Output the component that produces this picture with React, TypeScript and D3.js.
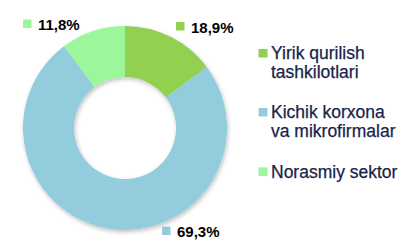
import React from "react";
import * as d3 from "d3";

const categories = ["Yirik qurilish tashkilotlari", "Kichik korxona va mikrofirmalar", "Norasmiy sektor"];
const legendLines = [["Yirik qurilish", "tashkilotlari"], ["Kichik korxona", "va mikrofirmalar"], ["Norasmiy sektor"]];
// slice sizes as drawn in the picture
const drawnShares = [14.8, 75.0, 10.2];
// value labels as printed
const valueLabels = ["18,9%", "69,3%", "11,8%"];
const colors = ["#92D050", "#93CDDD", "#9CF79C"];

const W = 409, H = 247;
const cx = 125, cy = 128;
const outerR = 102, innerR = 51;

// label anchor positions (marker left x, text baseline y)
const labelPos = [
  { x: 176, y: 32.5 },
  { x: 162, y: 237 },
  { x: 23, y: 30 },
];

export default function App() {
  const pie = d3.pie<number>().sort(null).value((d) => d)(drawnShares);
  const arc = d3.arc<d3.PieArcDatum<number>>().innerRadius(innerR).outerRadius(outerR);
  const legendY = [59.3, 118.3, 177.7];
  return (
    <svg width={W} height={H} style={{ position: "absolute", left: 0, top: 0, background: "#fff" }}>
      <defs>
        <filter id="sh" x="-20%" y="-20%" width="140%" height="140%">
          <feDropShadow dx="1" dy="2" stdDeviation="2" floodColor="#000" floodOpacity="0.25" />
        </filter>
      </defs>
      <g transform={`translate(${cx},${cy})`} filter="url(#sh)">
        {pie.map((p, i) => (
          <path key={i} d={arc(p) || ""} fill={colors[i]} />
        ))}
      </g>
      {valueLabels.map((t, i) => (
        <g key={i}>
          <rect x={labelPos[i].x} y={labelPos[i].y - 10.5} width={8.5} height={8.5} fill={colors[i]} />
          <text x={labelPos[i].x + 15} y={labelPos[i].y} fontFamily="'Liberation Sans', Arial, sans-serif" fontWeight="bold" fontSize={15} fill="#000">
            {t}
          </text>
        </g>
      ))}
      {categories.map((c, i) => (
        <g key={c}>
          <rect x={258.5} y={legendY[i] - 10.3} width={9} height={8.5} fill={colors[i]} />
          {legendLines[i].map((ln, j) => (
            <text key={j} x={271} y={legendY[i] + j * 18.3} fontFamily="'Liberation Sans', Arial, sans-serif" fontSize={17.5} fill="#17244a" stroke="#17244a" strokeWidth={0.25}>
              {ln}
            </text>
          ))}
        </g>
      ))}
    </svg>
  );
}
